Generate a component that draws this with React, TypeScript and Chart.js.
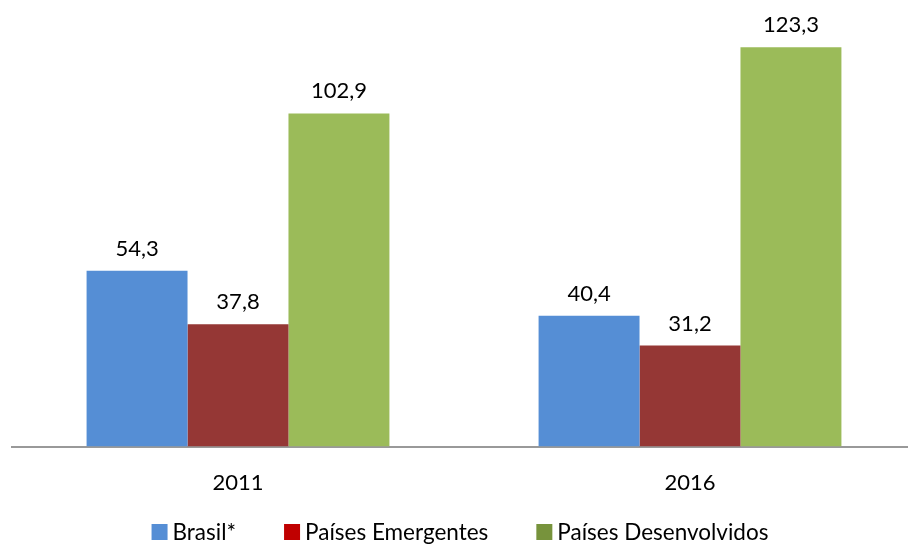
import React, { useEffect, useRef } from "react";
import { Chart, registerables } from "chart.js";

Chart.register(...registerables);

const categories = ["2011", "2016"];
const seriesNames = ["Brasil*", "Países Emergentes", "Países Desenvolvidos"];
const brasil = [54.3, 40.4];
const emergentes = [37.8, 31.2];
const desenvolvidos = [102.9, 123.3];
const barColors = ["#558ED5", "#953735", "#9BBB59"];
const legendColors = ["#558ED5", "#C00000", "#77933C"];

const FONT = "Lato, 'Noto Sans', sans-serif";

const valueLabels = {
  id: "valueLabels",
  afterDatasetsDraw(chart: any) {
    const ctx = chart.ctx;
    ctx.save();
    ctx.font = `22px ${FONT}`;
    ctx.fillStyle = "#000";
    ctx.textAlign = "center";
    ctx.textBaseline = "alphabetic";
    chart.data.datasets.forEach((ds: any, i: number) => {
      const meta = chart.getDatasetMeta(i);
      meta.data.forEach((el: any, j: number) => {
        const v = ds.data[j] as number;
        ctx.fillText(v.toFixed(1).replace(".", ","), el.x, el.y - 15);
      });
    });
    ctx.restore();
  },
};

const customLegend = {
  id: "customLegend",
  afterDraw(chart: any) {
    const ctx = chart.ctx;
    ctx.save();
    ctx.font = `22.5px ${FONT}`;
    ctx.textBaseline = "middle";
    ctx.textAlign = "left";
    const box = 16;
    const gap = 5;
    const itemGap = 48;
    const widths = seriesNames.map((n) => box + gap + ctx.measureText(n).width);
    const total = widths.reduce((a, b) => a + b, 0) + itemGap * (widths.length - 1);
    let x = (chart.width - total) / 2 + 2;
    const cy = chart.height - 13;
    seriesNames.forEach((n, i) => {
      ctx.fillStyle = legendColors[i];
      ctx.fillRect(x, cy - box / 2, box, box);
      ctx.fillStyle = "#000";
      ctx.fillText(n, x + box + gap, cy + 1);
      x += widths[i] + itemGap;
    });
    ctx.restore();
  },
};

export default function App() {
  const ref = useRef<HTMLCanvasElement | null>(null);
  useEffect(() => {
    if (!ref.current) return;
    const chart = new Chart(ref.current, {
      type: "bar",
      data: {
        labels: categories,
        datasets: [
          { label: seriesNames[0], data: brasil, backgroundColor: barColors[0] },
          { label: seriesNames[1], data: emergentes, backgroundColor: barColors[1] },
          { label: seriesNames[2], data: desenvolvidos, backgroundColor: barColors[2] },
        ],
      },
      options: {
        animation: false,
        responsive: true,
        maintainAspectRatio: false,
        layout: { padding: { left: 12, right: 0, top: 3, bottom: 26 } },
        datasets: {
          bar: { barPercentage: 1, categoryPercentage: 0.67 },
        },
        plugins: {
          legend: { display: false },
          tooltip: { enabled: false },
        },
        scales: {
          x: {
            grid: { display: false, drawTicks: false },
            border: { display: true, color: "#999999", width: 2 },
            ticks: { color: "#000", font: { family: FONT, size: 22 }, padding: 23 },
          },
          y: { display: false, min: 0, max: 137 },
        },
      },
      plugins: [valueLabels, customLegend],
    });
    return () => chart.destroy();
  }, []);
  return (
    <div style={{ position: "fixed", left: 0, top: 0, width: 908, height: 545, overflow: "hidden", background: "#fff" }}>
      <div style={{ position: "relative", width: 916, height: 545 }}>
        <canvas ref={ref} />
      </div>
    </div>
  );
}
